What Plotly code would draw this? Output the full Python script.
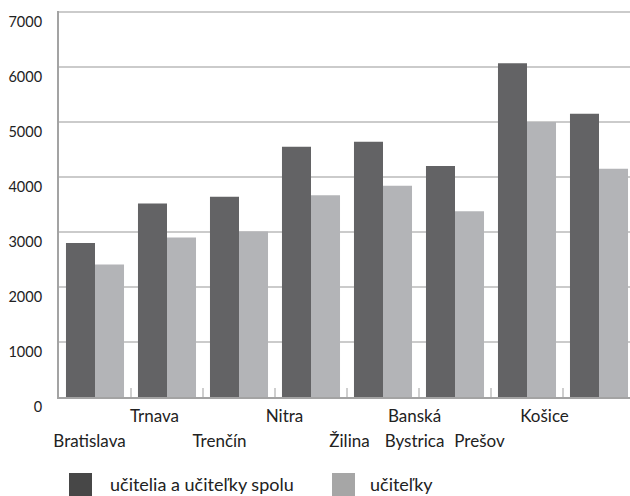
import plotly.graph_objects as go

categories = ["Bratislava", "Trnava", "Trenčín", "Nitra", "Žilina", "Banská Bystrica", "Prešov", "Košice"]
spolu = [2800, 3520, 3640, 4550, 4640, 4200, 6070, 5150]
ucitelky = [2410, 2900, 3010, 3670, 3840, 3380, 5000, 4150]
series_names = ["učitelia a učiteľky spolu", "učiteľky"]
y_ticks = [0, 1000, 2000, 3000, 4000, 5000, 6000, 7000]

# label rows (staggered as in the reference)
upper_row = ["", "Trnava", "", "Nitra", "", "Banská", "", "Košice"]
lower_row = ["Bratislava", "", "Trenčín", "", "Žilina", "Bystrica", "Prešov", ""]

W, H = 630, 496
L, R, T, B = 59, 0, 11, 99
PW, PH = W - L - R, H - T - B

def px_x(p):
    return (p - L) / PW

def px_y(p):
    return (H - B - p) / PH

FONT = "Lato"
TXT = "#222222"
DARK = "#636365"
LIGHT = "#b3b4b7"
GRID = "#cbcbcb"

idx = list(range(len(categories)))

fig = go.Figure()
fig.add_trace(go.Bar(x=idx, y=spolu, name=series_names[0], marker_color=DARK,
                     marker_line_width=0, showlegend=False, hoverinfo="y"))
fig.add_trace(go.Bar(x=idx, y=ucitelky, name=series_names[1], marker_color=LIGHT,
                     marker_line_width=0, showlegend=False, hoverinfo="y"))
# invisible anchor traces for label axes
fig.add_trace(go.Scatter(x=idx, y=[0] * len(idx), xaxis="x2", mode="markers",
                         marker=dict(opacity=0), showlegend=False, hoverinfo="skip"))
fig.add_trace(go.Scatter(x=idx, y=[0] * len(idx), xaxis="x3", mode="markers",
                         marker=dict(opacity=0), showlegend=False, hoverinfo="skip"))

unit_bar = 72.0
x0 = -0.5
x1 = x0 + PW / unit_bar
unit_lab = 65.0
a0 = -(89.5 - L) / unit_lab
a1 = a0 + PW / unit_lab

fig.update_layout(
    width=W, height=H,
    margin=dict(l=L, r=R, t=T, b=B, pad=0, autoexpand=False),
    paper_bgcolor="white", plot_bgcolor="white",
    barmode="group", bargap=0.194, bargroupgap=0,
    font=dict(family=FONT, size=15, color=TXT),
    xaxis=dict(range=[x0, x1], tickvals=[i + 0.5 for i in idx[:-1]] + [-0.5],
               showticklabels=False, ticks="inside", ticklen=9, tickwidth=2,
               tickcolor="#cfcfcf", showgrid=False, zeroline=False, automargin=False,
               showline=True, linecolor="#a3a3a3", linewidth=2),
    xaxis2=dict(range=[a0, a1], overlaying="x", side="bottom", anchor="y",
                tickvals=idx, ticktext=upper_row, ticks="", showgrid=False,
                zeroline=False, showline=False, ticklabelstandoff=7, automargin=False,
                tickfont=dict(family=FONT, size=17, color=TXT)),
    xaxis3=dict(range=[a0, a1], overlaying="x", side="bottom", anchor="y",
                tickvals=idx, ticktext=lower_row, ticks="", showgrid=False,
                zeroline=False, showline=False, ticklabelstandoff=32, automargin=False,
                tickfont=dict(family=FONT, size=17, color=TXT)),
    yaxis=dict(range=[0, 7020], tickvals=y_ticks, ticks="", showgrid=True,
               gridcolor=GRID, gridwidth=1.5, zeroline=False, automargin=False,
               showline=True, linecolor="#a3a3a3", linewidth=2,
               ticklabelstandoff=12, ticklabelposition="outside bottom",
               tickfont=dict(family=FONT, size=14.5, color=TXT)),
)

# top gridline (plotly drops the gridline at the plot edge)
fig.add_shape(type="line", xref="paper", yref="y", x0=0, x1=1, y0=y_ticks[-1], y1=y_ticks[-1],
              line=dict(color=GRID, width=1.5), layer="below")

# custom legend (large square swatches, as in the reference)
legend_items = [(series_names[0], "#474747", 69, 108), (series_names[1], "#a6a6a6", 332, 368)]
for name, col, sx, tx in legend_items:
    fig.add_shape(type="rect", xref="paper", yref="paper",
                  x0=px_x(sx), x1=px_x(sx + 23), y0=px_y(496), y1=px_y(473),
                  fillcolor=col, line_width=0)
    fig.add_annotation(text=name, xref="paper", yref="paper", x=px_x(tx), y=px_y(484.5),
                       xanchor="left", yanchor="middle", showarrow=False,
                       font=dict(family=FONT, size=18, color=TXT))

fig.write_html("out.html", config={"displayModeBar": False},
               post_script="document.body.style.margin='0';")
